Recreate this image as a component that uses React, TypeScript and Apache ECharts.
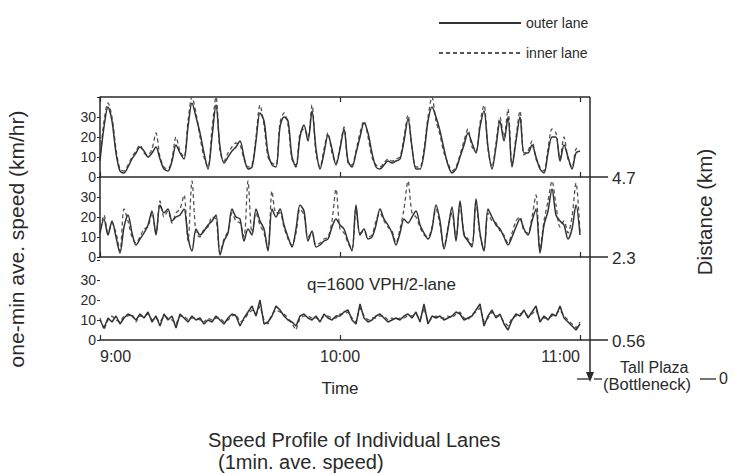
import React, { useEffect, useRef } from 'react';
import * as echarts from 'echarts';

// x: minutes after 9:00 (one-minute averages)
const timeLabels = ['9:00', '10:00', '11:00'];
const distanceLabels = ['4.7', '2.3', '0.56'];
const seriesNames = ['outer lane', 'inner lane'];

// Panel 1 (4.7 km)
const outer1 = [8,25,35,28,12,3,2,5,9,12, 15,13,10,12,15,9,4,3,8,16, 12,9,25,37,30,22,12,4,20,36, 15,7,10,13,15,18,10,4,5,18, 32,28,12,6,5,25,30,28,10,5, 20,26,18,33,14,4,12,21,14,6, 14,24,8,5,12,20,27,22,12,5, 4,6,8,7,8,9,18,29,15,4, 4,12,28,35,30,23,14,6,2,4, 10,16,22,17,12,25,33,15,4,15, 28,18,30,5,18,30,12,12,16,10, 4,2,12,20,20,8,16,10,4,12, 13];
const inner1 = [9,28,37,30,14,4,3,6,10,13, 16,12,11,14,22,10,5,4,9,20, 13,10,28,40,32,20,10,5,24,40, 13,8,12,15,17,16,9,5,6,20, 36,26,10,7,6,27,32,26,9,6, 22,24,20,36,12,5,14,22,12,7, 15,25,7,6,13,22,28,20,10,6, 5,7,9,8,9,10,20,31,14,5, 5,14,30,40,28,21,12,7,3,5, 11,18,24,15,13,27,36,14,5,17, 30,20,34,6,20,33,11,13,18,9, 5,3,14,24,22,9,20,9,5,14, 15];

// Panel 2 (2.3 km)
const outer2 = [12,19,11,18,10,2,15,21,12,6, 9,12,16,23,11,26,22,24,18,20, 21,24,10,3,14,11,13,16,18,21, 1,8,12,24,20,19,8,14,11,24, 18,14,3,24,20,24,16,10,5,14, 26,23,8,13,5,6,8,9,15,19, 16,14,8,3,26,11,14,9,10,16, 24,19,16,12,6,12,19,17,20,23, 16,12,9,14,26,18,4,14,25,8, 28,11,8,5,29,12,3,24,20,16, 14,10,6,10,15,19,14,11,18,24, 2,16,23,34,21,18,16,9,14,26, 11];
const inner2 = [11,21,12,17,12,3,24,18,10,7, 10,14,15,22,12,28,20,23,17,22, 24,31,8,38,12,10,14,15,20,19, 2,9,13,22,18,17,10,38,12,22, 16,12,4,33,22,22,15,9,6,12, 24,21,10,12,6,7,9,10,18,34, 14,12,7,4,24,12,13,10,11,18, 22,18,15,13,7,14,24,38,22,20, 15,11,10,15,24,16,5,15,22,9, 26,12,9,6,27,11,4,22,18,17, 13,11,7,12,18,20,13,12,20,31, 4,18,28,38,26,15,18,12,20,37, 12];

// Panel 3 (0.56 km)
const outer3 = [10,6,11,9,12,8,11,13,12,10, 13,11,14,9,12,7,13,10,12,6, 13,11,9,12,10,11,8,10,9,12, 10,8,11,13,12,7,11,14,17,12, 20,8,9,12,17,15,12,10,9,7, 12,13,11,10,12,9,13,11,10,12, 12,14,15,10,8,18,11,9,10,12, 13,11,9,10,11,10,12,13,11,14, 9,18,8,12,11,12,10,11,12,14, 13,10,11,12,15,18,7,12,15,11, 13,8,5,10,13,12,15,11,14,17, 9,12,10,13,12,17,11,9,7,5, 8];
const inner3 = [11,5,10,12,10,9,12,12,13,9, 12,12,13,10,11,9,12,11,10,8, 12,12,10,11,11,10,9,11,10,11, 11,9,10,12,13,9,10,13,15,13, 17,10,8,13,15,14,13,11,8,5, 11,12,12,11,11,10,12,12,11,11, 13,13,14,11,9,16,12,10,11,11, 12,12,10,11,10,11,11,12,12,13, 10,16,9,11,12,11,11,12,11,13, 14,11,10,13,14,16,9,11,14,12, 12,9,7,11,12,13,14,12,13,15, 10,11,11,12,13,15,12,10,8,6, 9];

const panels = [
  { outer: outer1, inner: inner1 },
  { outer: outer2, inner: inner2 },
  { outer: outer3, inner: inner3 },
];

const FONT = 'Liberation Sans, Arial, sans-serif';
const INK = '#2a2a2a';

export default function App() {
  const ref = useRef<HTMLDivElement>(null);

  useEffect(() => {
    if (!ref.current) return;
    const chart = echarts.init(ref.current, undefined, { renderer: 'svg' });

    const gridTops = [97, 177, 260];
    const grids = gridTops.map((t) => ({ left: 100, width: 480, top: t, height: 80 }));

    const xAxes: any[] = gridTops.map((_, i) => ({
      type: 'value',
      gridIndex: i,
      min: 0,
      max: 120,
      interval: 60,
      axisLine: { show: true, lineStyle: { color: INK, width: 1.5 } },
      axisTick: { show: true, inside: true, length: 5, lineStyle: { color: INK, width: 1.2 } },
      splitLine: { show: false },
      axisLabel: {
        show: i === 2,
        fontFamily: FONT,
        fontSize: 16,
        color: INK,
        margin: 8,
        alignMinLabel: 'left',
        alignMaxLabel: 'right',
        formatter: (v: number) => timeLabels[Math.round(v / 60)] ?? '',
      },
      name: i === 2 ? 'Time' : '',
      nameLocation: 'middle',
      nameGap: 40,
      nameTextStyle: { fontFamily: FONT, fontSize: 17, color: INK },
    }));
    // top ticks of the upper panel
    xAxes.push({
      type: 'value',
      gridIndex: 0,
      position: 'top',
      min: 0,
      max: 120,
      interval: 60,
      axisLine: { show: false },
      axisTick: { show: true, inside: true, length: 5, lineStyle: { color: INK, width: 1.2 } },
      axisLabel: { show: false },
      splitLine: { show: false },
    });

    const yAxes = gridTops.map((_, i) => ({
      type: 'value',
      gridIndex: i,
      min: 0,
      max: 40,
      interval: 10,
      axisLine: { show: i < 2, lineStyle: { color: INK, width: 1.5 } },
      axisTick: { show: true, inside: false, length: 3, lineStyle: { color: INK } },
      splitLine: { show: false },
      axisLabel: {
        fontFamily: FONT,
        fontSize: 14,
        color: INK,
        margin: 4,
        formatter: (v: number) => (v === 40 ? '' : String(v)),
      },
    }));

    const series: any[] = [];
    panels.forEach((p, i) => {
      series.push({
        name: seriesNames[0],
        type: 'line',
        xAxisIndex: i,
        yAxisIndex: i,
        symbol: 'none',
        showSymbol: false,
        smooth: i < 2 ? 0.3 : 0,
        data: p.outer.map((v, k) => [k, v]),
        lineStyle: { color: '#333', width: 1.5, type: 'solid' },
        itemStyle: { color: '#333' },
        z: 3,
      });
      series.push({
        name: seriesNames[1],
        type: 'line',
        xAxisIndex: i,
        yAxisIndex: i,
        symbol: 'none',
        showSymbol: false,
        smooth: i < 2 ? 0.3 : 0,
        data: p.inner.map((v, k) => [k, v]),
        lineStyle: { color: '#555', width: 1.3, type: [4, 3] },
        itemStyle: { color: '#555' },
        z: 2,
      });
    });

    const txt = (text: string, x: number, y: number, size: number, extra: any = {}) => ({
      type: 'text',
      x,
      y,
      ...extra,
      style: {
        text,
        fontFamily: FONT,
        fontSize: size,
        fill: INK,
        textAlign: extra.align ?? 'left',
        textVerticalAlign: 'middle',
      },
    });
    const ln = (x1: number, y1: number, x2: number, y2: number, w = 1.5) => ({
      type: 'line',
      shape: { x1, y1, x2, y2 },
      style: { stroke: INK, lineWidth: w },
    });

    const graphic: any[] = [
      ln(100, 97, 590, 97, 1.5),
      ln(590, 97, 590, 374, 1.5),
      { type: 'polygon', shape: { points: [[586, 372], [594, 372], [590, 382]] }, style: { fill: INK } },
      ln(577, 379, 589, 379, 1.3),
      ln(594, 379, 602, 379, 1.3),
      ln(580, 177, 608, 177, 1.5),
      ln(580, 257, 608, 257, 1.5),
      ln(580, 340, 608, 340, 1.5),
      txt(distanceLabels[0], 612, 178, 17),
      txt(distanceLabels[1], 612, 258, 17),
      txt(distanceLabels[2], 612, 341, 17),
      txt('Tall Plaza', 620, 367, 16),
      txt('(Bottleneck)', 603, 384, 16.5),
      ln(700, 379, 716, 379, 1.3),
      txt('0', 719, 378, 16),
      txt('q=1600 VPH/2-lane', 307, 284, 17),
      txt('one-min ave. speed (km/hr)', 16, 239, 21, { rotation: Math.PI / 2, align: 'center' }),
      txt('Distance (km)', 704, 212, 20.5, { rotation: Math.PI / 2, align: 'center' }),
      txt('Speed Profile of Individual Lanes', 208, 440, 20),
      txt('(1min. ave. speed)', 218, 462, 20),
    ];

    chart.setOption({
      animation: false,
      backgroundColor: '#ffffff',
      legend: {
        data: seriesNames,
        orient: 'vertical',
        left: 433,
        top: 11,
        itemWidth: 82,
        itemHeight: 14,
        itemGap: 16,
        itemStyle: { opacity: 0 },
        textStyle: { fontFamily: FONT, fontSize: 14, color: INK },
        selectedMode: false,
      },
      grid: grids,
      xAxis: xAxes,
      yAxis: yAxes,
      series,
      graphic,
    });

    return () => chart.dispose();
  }, []);

  return (
    <div
      ref={ref}
      style={{ position: 'fixed', left: 0, top: 0, width: 733, height: 474, background: '#fff' }}
    />
  );
}
